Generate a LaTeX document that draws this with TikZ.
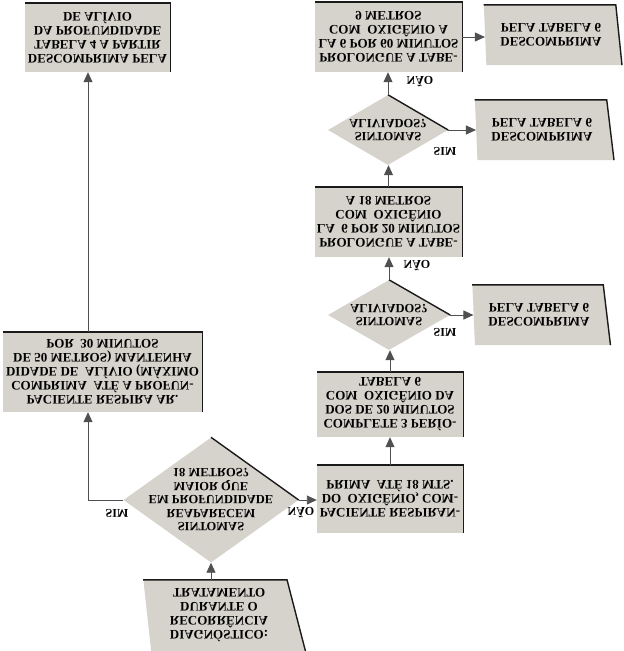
\documentclass[tikz,border=0pt]{standalone}
\usepackage{fontspec}
\setmainfont{Liberation Serif}
\usetikzlibrary{shapes.geometric, arrows.meta, calc}
\definecolor{chartFill}{HTML}{D6D3CC}
\definecolor{chartEdge}{HTML}{1A1A1A}
\definecolor{chartLine}{HTML}{505050}
\tikzset{
  block/.style = {rectangle, fill=chartFill, align=center, inner sep=0pt,
                  font=\fontsize{13}{14}\selectfont\bfseries},
  data/.style  = {trapezium, trapezium stretches=true, fill=chartFill,
                  align=center, inner sep=0pt,
                  font=\fontsize{13}{14}\selectfont\bfseries},
  arrow/.style = {-{Triangle[length=10pt, width=9pt]}, color=chartLine, line width=0.9pt},
  shade/.style = {chartEdge, line width=1.4pt},
  lbl/.style   = {font=\fontsize{12}{13}\selectfont\bfseries, inner sep=0pt},
}
\begin{document}
\begin{tikzpicture}[x=1pt, y=1pt, yscale=-1, transform shape,
  decision/.style={diamond, fill=chartFill, inner sep=0pt},
  dtext/.style={align=center, inner sep=0pt,
                font=\fontsize{12.5}{13.5}\selectfont\bfseries},
]
\useasboundingbox (0,0) rectangle (624,651);

% left column
\node[block, minimum width=145, minimum height=69] (desc4) at (97.5,37.5)
  {DESCOMPRIMA PELA\\TABELA 4 A PARTIR\\DA PROFUNDIDADE\\DE ALÍVIO};
\node[block, minimum width=199, minimum height=80] (ar) at (102.5,372)
  {PACIENTE RESPIRA AR.\\COMPRIMA\ \ ATÉ A PROFUN-\\DIDADE DE\ \ ALÍVIO (MÁXIMO\\DE 50 METROS) MANTENHA\\POR\ \ 30 MINUTOS};

% start and first decision
\node[data, trapezium left angle=84, trapezium right angle=104,
      minimum width=162, minimum height=71] (diag) at (219,615.5)
  {DIAGNÓSTICO:\\RECORRÊNCIA\\DURANTE O\\TRATAMENTO};
\node[decision, minimum width=175, minimum height=125,
      label={[dtext]center:{SINTOMAS\\REAPARECEM\\EM PROFUNDIDADE\\MAIOR QUE\\18 METROS?}}] (dec1) at (211,500) {};

% right column
\node[block, minimum width=146, minimum height=68] (oxi) at (390,499)
  {PACIENTE RESPIRAN-\\DO\ \ OXIGÊNIO, COM-\\PRIMA\ \ ATÉ 18 MTS.};
\node[block, minimum width=146, minimum height=65] (per3) at (390,404.5)
  {COMPLETE 3 PERÍO-\\DOS DE 20 MINUTOS\\COM\ \ OXIGÊNIO DA\\TABELA 6};
\node[decision, minimum width=122, minimum height=70,
      label={[dtext]center:{SINTOMAS\\ALIVIADOS?}}] (dec2) at (389,315) {};
\node[data, trapezium left angle=85, trapezium right angle=104,
      minimum width=138, minimum height=60] (t6a) at (539,315)
  {DESCOMPRIMA\\PELA TABELA 6};
\node[block, minimum width=147, minimum height=70] (pro20) at (388.5,222)
  {PROLONGUE A TABE-\\LA\ \ 6 POR 20 MINUTOS\\COM\ \ OXIGÊNIO\\A 18 METROS};
\node[decision, minimum width=120, minimum height=70,
      label={[dtext]center:{SINTOMAS\\ALIVIADOS?}}] (dec3) at (388,130) {};
\node[data, trapezium left angle=85, trapezium right angle=104,
      minimum width=139, minimum height=60] (t6b) at (542,130)
  {DESCOMPRIMA\\PELA TABELA 6};
\node[block, minimum width=147, minimum height=70] (pro60) at (388.5,37)
  {PROLONGUE A TABE-\\LA 6 POR 60 MINUTOS\\COM\ \ OXIGÊNIO A\\9 METROS};
\node[data, trapezium left angle=85, trapezium right angle=102,
      minimum width=138, minimum height=60] (t6c) at (551,35)
  {DESCOMPRIMA\\PELA TABELA 6};

% dark edges
\foreach \n in {desc4, ar, oxi, per3, pro20, pro60}
  \draw[shade] (\n.south west) -- (\n.south east) -- (\n.north east);
\foreach \n in {dec1, dec2, dec3}
  \draw[shade] (\n.south) -- (\n.east);
\foreach \n in {diag, t6a, t6b, t6c}
  \draw[shade] (\n.bottom left corner) -- (\n.bottom right corner) -- (\n.top right corner);

\coordinate (colL) at (88,0);

% connectors
\draw[arrow] (dec1.north |- diag.bottom side) -- (dec1.north);
\draw[arrow] (dec1.west) -| (ar.north -| colL);
\draw[arrow] (ar.south -| colL) -- (desc4.north -| colL);
\draw[arrow] (dec1.east) -- (dec1.east -| oxi.west);
\draw[arrow] (oxi.south) -- (per3.north);
\draw[arrow] (per3.south) -- (per3.south |- dec2.north);
\draw[arrow] (dec2.east) -- (dec2.east -| t6a.west);
\draw[arrow] (dec2.south) -- (dec2.south |- pro20.north);
\draw[arrow] (pro20.south) -- (pro20.south |- dec3.north);
\draw[arrow] (dec3.east) -- (dec3.east -| t6b.west);
\draw[arrow] (dec3.south) -- (dec3.south |- pro60.north);
\draw[arrow] (pro60.east) -- (pro60.east -| t6c.west);

% labels
\node[lbl] (sim1) at (117,513) {SIM};
\node[lbl] (nao1) at (301,513) {NÃO};
\node[lbl] (sim2) at (445,332) {SIM};
\node[lbl] (nao2) at (417,266) {NÃO};
\node[lbl] (sim3) at (445,151) {SIM};
\node[lbl] (nao3) at (420,82) {NÃO};

\end{tikzpicture}
\end{document}
